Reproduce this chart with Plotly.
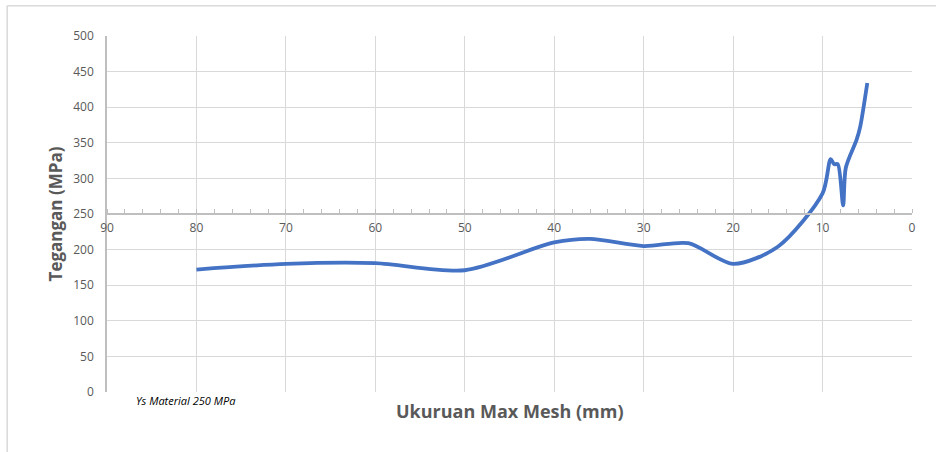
import plotly.graph_objects as go

mesh_size = [80, 70, 60, 50, 40, 36, 30, 25, 20, 15, 10, 9.1, 8.7, 8.3, 7.7, 7.4, 6.2, 5.8, 5]
stress = [172, 180, 181, 171, 210, 215, 205, 209, 180, 204, 279, 327, 320, 320, 262, 315, 354, 372, 434]

x_ticks = [90, 80, 70, 60, 50, 40, 30, 20, 10, 0]
y_ticks = [0, 50, 100, 150, 200, 250, 300, 350, 400, 450, 500]

fig = go.Figure()
fig.add_trace(go.Scatter(
    x=mesh_size, y=stress, mode="lines",
    line=dict(color="#4472C4", width=3.8, shape="spline", smoothing=0.8),
    showlegend=False, hoverinfo="x+y",
))

grid = "#D9D9D9"
fig.update_layout(
    width=936, height=452,
    margin=dict(l=107, r=24, t=36, b=60),
    paper_bgcolor="white", plot_bgcolor="white",
    font=dict(family="Open Sans, Calibri, sans-serif", color="#595959", size=12),
    xaxis=dict(
        range=[90, 0], tickvals=x_ticks, ticktext=[str(v) for v in x_ticks],
        showgrid=True, gridcolor=grid, gridwidth=1.3,
        anchor="free", position=0.5,
        showline=True, linecolor="#BFBFBF", linewidth=1.5,
        ticks="", ticklabelstandoff=3, tickfont=dict(size=12, color="#595959"),
        minor=dict(dtick=2, tick0=0, ticks="inside", ticklen=4, tickcolor="#BFBFBF", showgrid=False),
        zeroline=False,
    ),
    yaxis=dict(
        range=[0, 500], tickvals=y_ticks,
        showgrid=True, gridcolor=grid, gridwidth=1.3,
        showline=True, linecolor="#BFBFBF", linewidth=1.5,
        ticks="", ticklabelstandoff=9, tickfont=dict(size=12, color="#595959"),
        zeroline=False,
        title=dict(text="<b>Tegangan (MPa)</b>", font=dict(size=17, color="#595959"), standoff=6),
    ),
)

fig.add_annotation(
    text="<b>Ukuruan Max Mesh (mm)</b>", xref="paper", yref="paper",
    x=0.5, y=-0.052, xanchor="center", yanchor="middle", showarrow=False,
    font=dict(size=18, color="#595959"),
)
fig.add_annotation(
    text="<i>Ys Material 250 MPa</i>", xref="paper", yref="paper",
    x=0.033, y=-0.025, xanchor="left", yanchor="middle", showarrow=False,
    font=dict(size=11, color="#000000"),
)
# chart-area border (top and left visible)
fig.add_shape(type="line", xref="paper", yref="paper",
              x0=-0.124, x1=1.03, y0=1.085, y1=1.085,
              line=dict(color="#D9D9D9", width=1.5))
fig.add_shape(type="line", xref="paper", yref="paper",
              x0=-0.124, x1=-0.124, y0=1.085, y1=-0.17,
              line=dict(color="#D9D9D9", width=1.5))

fig.write_html("out.html", config={"displayModeBar": False},
               post_script="document.body.style.margin='0px';")
